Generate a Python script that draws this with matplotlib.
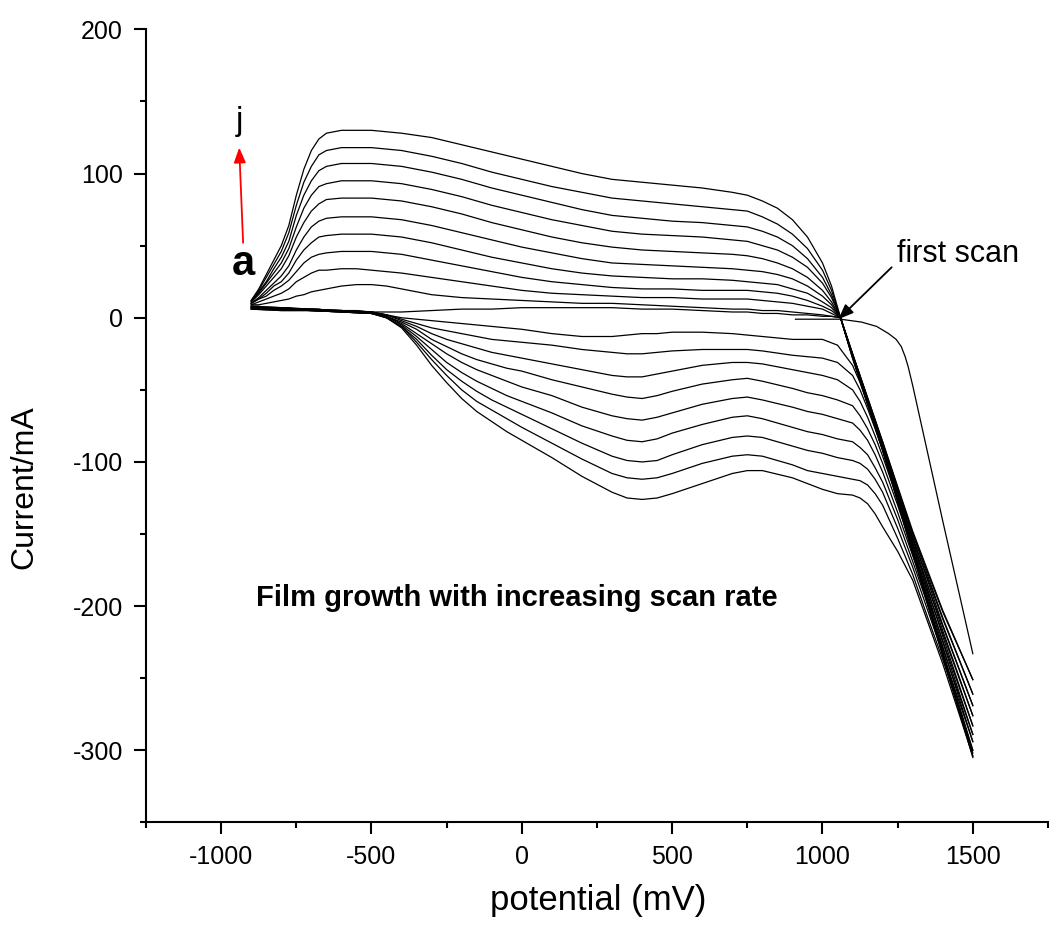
import matplotlib; matplotlib.use("Agg")
import matplotlib.pyplot as plt
from matplotlib.ticker import MultipleLocator

plt.rcParams['font.family'] = ['Liberation Sans', 'DejaVu Sans']
plt.rcParams['axes.unicode_minus'] = False

# anodic branches (-900 -> 1500 mV), scan 0 (flat) up to scan 10 (top, "j")
XU = [-900, -875, -850, -825, -800, -775, -750, -725, -700, -675, -650, -600, -550, -500, -450, -400,
      -300, -200, -100, 0, 100, 200, 300, 400, 500, 600, 700, 750, 800, 850, 900, 950, 1000, 1030, 1060,
      1100, 1200, 1300, 1400, 1500]
U0 = [8, 8, 7, 7, 7, 7, 6, 6, 6, 6, 5, 5, 5, 4, 4, 4, 5, 6, 6, 7, 7, 7, 7, 6, 6, 5, 4, 4, 3, 3, 2, 2, 1, 1, 0,
      -25, -86, -148, -203, -251]
U1 = [9, 9, 10, 11, 12, 13, 15, 16, 18, 19, 20, 22, 23, 23, 22, 20, 16, 14, 13, 12, 11, 10, 10, 9, 8, 7, 6,
      6, 5, 5, 4, 3, 2, 1, 0, -25, -86, -150, -208, -261]
U2 = [9, 11, 13, 15, 17, 20, 25, 28, 31, 33, 33, 34, 34, 33, 32, 31, 28, 25, 22, 19, 17, 16, 15, 14, 14, 13, 13,
      13, 12, 11, 10, 8, 6, 3, 0, -25, -87, -152, -213, -269]
U3 = [10, 13, 15, 19, 22, 26, 32, 38, 42, 44, 45, 46, 46, 46, 45, 44, 40, 36, 32, 28, 25, 23, 21, 20, 20, 19, 19,
      19, 18, 17, 15, 12, 8, 5, 0, -26, -88, -154, -217, -276]
U4 = [10, 13, 17, 22, 25, 31, 40, 47, 52, 56, 57, 58, 58, 58, 57, 56, 52, 47, 42, 38, 34, 31, 29, 28, 27, 27, 26,
      25, 24, 23, 20, 17, 11, 7, 0, -26, -88, -156, -221, -283]
U5 = [10, 14, 19, 24, 29, 36, 47, 56, 63, 67, 69, 70, 70, 70, 69, 68, 64, 59, 54, 49, 45, 41, 38, 37, 36, 35, 34,
      33, 32, 30, 27, 22, 15, 9, 0, -26, -89, -158, -225, -289]
U6 = [11, 16, 22, 28, 34, 43, 56, 66, 74, 79, 82, 83, 83, 83, 82, 81, 77, 72, 66, 61, 56, 52, 49, 47, 46, 45, 44,
      43, 41, 38, 34, 28, 19, 11, 0, -27, -90, -160, -228, -294]
U7 = [11, 17, 24, 31, 38, 48, 63, 76, 85, 91, 93, 95, 95, 95, 94, 93, 89, 84, 78, 73, 68, 64, 60, 58, 57, 56, 54,
      53, 50, 47, 42, 35, 24, 14, 0, -27, -91, -161, -231, -300]
U8 = [11, 18, 25, 34, 42, 53, 71, 85, 95, 102, 105, 107, 107, 107, 106, 105, 101, 96, 90, 85, 80, 75, 71, 69, 67,
      66, 64, 63, 60, 56, 50, 41, 28, 16, 0, -27, -91, -162, -233, -302]
U9 = [12, 19, 28, 37, 46, 59, 78, 94, 105, 113, 116, 118, 118, 118, 117, 116, 112, 107, 101, 96, 91, 87, 83, 81,
      79, 77, 75, 74, 70, 65, 58, 48, 33, 19, 0, -28, -92, -163, -234, -304]
U10 = [12, 20, 30, 40, 50, 64, 85, 103, 116, 124, 128, 130, 130, 130, 129, 128, 125, 120, 115, 110, 105, 100, 96,
       94, 92, 90, 87, 85, 81, 76, 68, 56, 38, 22, 0, -28, -92, -164, -235, -305]

# cathodic branches (1500 -> -900 mV), stored on an ascending grid
XL = [-900, -800, -700, -600, -500, -450, -400, -350, -300, -250, -200, -150, -100, -50, 0, 100, 200, 300, 350,
      400, 450, 500, 600, 700, 750, 800, 900, 950, 1000, 1050, 1100, 1125, 1150, 1175, 1200, 1250, 1300, 1350,
      1400, 1500]
L1 = [8, 7, 6, 5, 4, 2, 0, -1, -2, -3, -4, -5, -6, -7, -8, -11, -13, -13, -12, -11, -11, -10, -10, -11, -12, -13,
      -15, -15, -15, -19, -33, -45, -60, -75, -90, -120, -149, -177, -204, -251]
L2 = [8, 7, 6, 5, 4, 2, -1, -4, -7, -9, -11, -13, -15, -16, -17, -19, -22, -24, -25, -25, -24, -23, -22, -22, -22,
      -23, -26, -27, -28, -31, -40, -50, -63, -77, -92, -122, -153, -181, -209, -261]
L3 = [7, 6, 6, 5, 4, 2, -2, -6, -11, -15, -18, -21, -24, -26, -28, -32, -36, -40, -41, -41, -39, -37, -33, -31,
      -31, -32, -36, -38, -40, -43, -50, -58, -69, -82, -96, -126, -157, -186, -214, -269]
L4 = [7, 6, 5, 5, 4, 1, -3, -8, -15, -20, -25, -29, -32, -35, -37, -43, -48, -53, -55, -56, -54, -51, -46, -43,
      -42, -44, -49, -52, -54, -57, -61, -68, -77, -88, -101, -130, -161, -190, -219, -276]
L5 = [7, 6, 5, 5, 3, 1, -4, -11, -18, -25, -31, -36, -40, -44, -48, -54, -62, -68, -70, -71, -69, -66, -60, -56,
      -55, -57, -62, -65, -67, -70, -73, -78, -85, -95, -107, -135, -165, -194, -224, -283]
L6 = [7, 6, 5, 4, 3, 1, -5, -13, -22, -31, -38, -44, -49, -54, -58, -66, -75, -82, -85, -86, -84, -80, -74, -69,
      -68, -70, -76, -79, -81, -84, -86, -90, -95, -104, -114, -140, -169, -199, -229, -289]
L7 = [6, 6, 5, 4, 3, 0, -6, -15, -26, -36, -44, -51, -57, -62, -67, -77, -87, -96, -99, -100, -99, -95, -88, -83,
      -82, -83, -89, -92, -94, -97, -99, -101, -105, -112, -121, -146, -173, -203, -233, -294]
L8 = [6, 5, 5, 4, 3, 0, -6, -17, -29, -40, -50, -58, -64, -70, -76, -87, -98, -108, -111, -112, -111, -108, -101,
      -96, -95, -96, -102, -106, -108, -110, -112, -113, -116, -122, -130, -153, -178, -208, -237, -300]
L9 = [6, 5, 5, 4, 3, 0, -7, -19, -33, -45, -56, -65, -72, -79, -85, -97, -110, -121, -125, -126, -125, -122, -115,
      -108, -106, -106, -111, -115, -119, -122, -123, -125, -129, -136, -145, -162, -182, -211, -240, -304]

# first scan, starting at 900 mV
FSX = [910, 1000, 1060, 1130, 1180, 1220, 1245, 1262, 1275, 1285, 1300, 1400, 1500]
FSY = [-1, -1, -1, -3, -6, -11, -15, -20, -27, -34, -47, -141, -233]

fig = plt.figure(figsize=(10.49, 9.44), dpi=100)
ax = fig.add_axes([146/1049, 1-822.4/944, 902/1049, 793/944])
for y in [U0, U1, U2, U3, U4, U5, U6, U7, U8, U9, U10]:
    ax.plot(XU, y, color="black", lw=0.9)
for y in [L1, L2, L3, L4, L5, L6, L7, L8, L9]:
    ax.plot(XL, y, color="black", lw=0.9)
ax.plot(FSX, FSY, color="black", lw=0.9)

ax.set_xlim(-1250, 1750); ax.set_ylim(-350, 200)
ax.set_xticks([-1000, -500, 0, 500, 1000, 1500]); ax.set_yticks([-300, -200, -100, 0, 100, 200])
ax.xaxis.set_minor_locator(MultipleLocator(250)); ax.yaxis.set_minor_locator(MultipleLocator(50))
ax.tick_params(which="major", direction="out", length=8.5, width=1.5, labelsize=18, pad=8)
ax.tick_params(which="minor", direction="out", length=4.5, width=1.5)
for s in ["top", "right"]: ax.spines[s].set_visible(False)
for s in ["left", "bottom"]: ax.spines[s].set_linewidth(1.5)

ax.set_xlabel("potential (mV)", fontsize=25)
ax.xaxis.set_label_coords(0.501, -0.078)
ax.set_ylabel("Current/mA", fontsize=23)
ax.yaxis.set_label_coords(-0.118, 0.423)

ax.text(-940, 130, "j", fontsize=24, ha="center", va="baseline")
ax.text(-927, 30, "a", fontsize=30, fontweight="bold", ha="center", va="baseline")
ax.annotate("", xy=(-940, 118), xytext=(-927, 52),
            arrowprops=dict(arrowstyle="-|>,head_length=0.5,head_width=0.2", color="red", lw=1.3,
                            mutation_scale=18, shrinkA=0, shrinkB=0))
ax.text(1247, 38.6, "first scan", fontsize=22, ha="left", va="baseline")
ax.annotate("", xy=(1053, -1), xytext=(1230, 35),
            arrowprops=dict(arrowstyle="-|>,head_length=0.5,head_width=0.2", color="black", lw=1.3,
                            mutation_scale=18, shrinkA=0, shrinkB=0))
ax.text(-883, -200, "Film growth with increasing scan rate", fontsize=21, fontweight="bold",
        ha="left", va="baseline")

fig.savefig("out.png", dpi=100)
